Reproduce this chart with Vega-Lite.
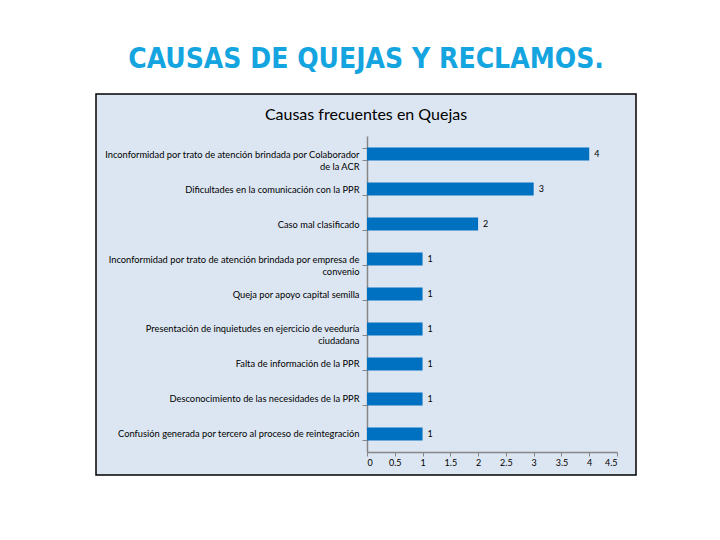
{
  "$schema": "https://vega.github.io/schema/vega-lite/v6.json",
  "width": 540,
  "height": 381,
  "autosize": {"type": "none"},
  "padding": {"left": 96, "top": 94, "right": 84, "bottom": 65},
  "background": "white",
  "title": {
    "text": "CAUSAS DE QUEJAS Y RECLAMOS.",
    "subtitle": "Causas frecuentes en Quejas",
    "anchor": "middle",
    "frame": "group",
    "font": "'DejaVu Sans Condensed', 'Roboto', sans-serif",
    "fontSize": 28,
    "fontWeight": "bold",
    "color": "#14A5E0",
    "subtitleFont": "Lato",
    "subtitleFontSize": 16,
    "subtitleColor": "#000000",
    "subtitlePadding": 33,
    "offset": -33
  },
  "data": {
    "values": [
      {"causa": "Inconformidad por trato de atención brindada por Colaborador\nde la ACR", "cantidad": 4},
      {"causa": "Dificultades en la comunicación con la PPR", "cantidad": 3},
      {"causa": "Caso mal clasificado", "cantidad": 2},
      {"causa": "Inconformidad por trato de atención brindada por empresa de\nconvenio", "cantidad": 1},
      {"causa": "Queja por apoyo capital semilla", "cantidad": 1},
      {"causa": "Presentación de inquietudes en ejercicio de veeduría\nciudadana", "cantidad": 1},
      {"causa": "Falta de información de la PPR", "cantidad": 1},
      {"causa": "Desconocimiento de las necesidades de la PPR", "cantidad": 1},
      {"causa": "Confusión generada por tercero al proceso de reintegración", "cantidad": 1}
    ]
  },
  "config": {
    "view": {"fill": "#DCE6F2", "stroke": "#000000", "strokeWidth": 1.5}
  },
  "encoding": {
    "y": {
      "field": "causa",
      "type": "nominal",
      "sort": null,
      "scale": {"range": [42, 358], "paddingInner": 0.63, "paddingOuter": 0.33},
      "axis": {
        "title": null,
        "offset": -271,
        "labelExpr": "split(datum.label, '\\n')",
        "labelFont": "Lato",
        "labelFontSize": 9.3,
        "labelColor": "#000000",
        "labelPadding": 3,
        "labelLimit": 320,
        "labelLineHeight": 12,
        "tickBand": "extent",
        "tickSize": 5,
        "tickColor": "#868686",
        "domainColor": "#868686",
        "domainWidth": 1.5,
        "grid": false
      }
    }
  },
  "layer": [
    {
      "mark": {"type": "bar", "color": "#0070C0"},
      "encoding": {
        "x": {
          "field": "cantidad",
          "type": "quantitative",
          "scale": {"domain": [0, 4.5], "range": [271, 521], "nice": false, "zero": true},
          "axis": {
            "title": null,
            "values": [0, 0.5, 1, 1.5, 2, 2.5, 3, 3.5, 4, 4.5],
            "format": "~g",
            "offset": -23,
            "grid": false,
            "labelFont": "Lato",
            "labelFontSize": 9,
            "labelColor": "#000000",
            "labelPadding": 2,
            "tickSize": 4,
            "tickColor": "#868686",
            "domainColor": "#868686",
            "domainWidth": 1.5
          }
        }
      }
    },
    {
      "mark": {"type": "text", "align": "left", "dx": 5, "font": "Lato", "fontSize": 9, "color": "#000000"},
      "encoding": {
        "x": {"field": "cantidad", "type": "quantitative"},
        "text": {"field": "cantidad", "type": "quantitative"}
      }
    }
  ]
}
